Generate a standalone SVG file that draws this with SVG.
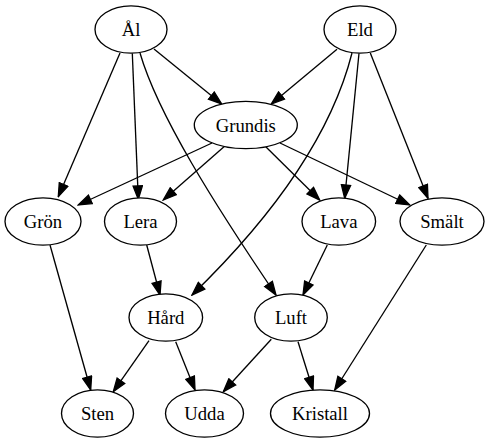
<svg xmlns="http://www.w3.org/2000/svg" width="488" height="443" viewBox="0 0 488 443">
<style>
.n ellipse{fill:#fff;stroke:#000;stroke-width:1.33}
.n text{font-family:"Liberation Serif","Times New Roman",serif;font-size:18.67px;text-anchor:middle;fill:#000}
#edges path{fill:none;stroke:#000;stroke-width:1.33;marker-end:url(#arr)}
</style>
<defs>
<marker id="arr" markerUnits="userSpaceOnUse" viewBox="-1 -1 15.3 11.3" refX="13.3" refY="4.65" markerWidth="15.3" markerHeight="11.3" orient="auto">
<path d="M0,0 L13.3,4.65 L0,9.3 Z" fill="#000" stroke="#000" stroke-width="1.33"/>
</marker>
</defs>
<rect width="488" height="443" fill="#fff"/>
<g id="edges">
<path d="M154,49 L221.7,104"/>
<path d="M120,53 L58.3,196.7"/>
<path d="M132.3,53.3 L138.3,199.3"/>
<path d="M140,53 C158,115 215,205 276,295"/>
<path d="M337,49.3 L271.3,104"/>
<path d="M352,53 C335,120 290,200 192,295"/>
<path d="M359,53.3 L344.7,198.3"/>
<path d="M370.3,53 L428,198.3"/>
<path d="M212,143 L78.3,205"/>
<path d="M226,145 L163.3,200"/>
<path d="M264,145 L319.7,200"/>
<path d="M280,143 L409.7,205"/>
<path d="M146.7,245 L160,295"/>
<path d="M327.3,245 L303,295"/>
<path d="M50,245 L90.7,390"/>
<path d="M426.3,245 L334.7,390"/>
<path d="M149,340.7 L113.3,391.7"/>
<path d="M175.7,341.7 L195,390"/>
<path d="M271.3,339.3 L223.3,391.7"/>
<path d="M298,341.7 L313,390"/>
</g>
<g id="node-al" class="n"><ellipse cx="131" cy="29.5" rx="36" ry="23.7"/><text x="131" y="36">Ål</text></g>
<g id="node-eld" class="n"><ellipse cx="360" cy="29.5" rx="36" ry="23.7"/><text x="360" y="36">Eld</text></g>
<g id="node-grundis" class="n"><ellipse cx="245.8" cy="125" rx="51.5" ry="23.7"/><text x="245.8" y="131.5">Grundis</text></g>
<g id="node-gron" class="n"><ellipse cx="43" cy="221.5" rx="38" ry="23.7"/><text x="43" y="228">Grön</text></g>
<g id="node-lera" class="n"><ellipse cx="140.5" cy="221.5" rx="36" ry="23.7"/><text x="140.5" y="228">Lera</text></g>
<g id="node-lava" class="n"><ellipse cx="338.8" cy="221.5" rx="36.8" ry="23.7"/><text x="338.8" y="228">Lava</text></g>
<g id="node-smalt" class="n"><ellipse cx="442" cy="221.5" rx="42" ry="23.7"/><text x="442" y="228">Smält</text></g>
<g id="node-hard" class="n"><ellipse cx="165.8" cy="317.5" rx="36.8" ry="23.7"/><text x="165.8" y="324">Hård</text></g>
<g id="node-luft" class="n"><ellipse cx="291" cy="317.5" rx="36.3" ry="23.7"/><text x="291" y="324">Luft</text></g>
<g id="node-sten" class="n"><ellipse cx="97.5" cy="413.5" rx="36" ry="23.7"/><text x="97.5" y="420">Sten</text></g>
<g id="node-udda" class="n"><ellipse cx="204.5" cy="413.5" rx="39" ry="23.7"/><text x="204.5" y="420">Udda</text></g>
<g id="node-kristall" class="n"><ellipse cx="320" cy="413.5" rx="49.5" ry="23.7"/><text x="320" y="420">Kristall</text></g>
</svg>
